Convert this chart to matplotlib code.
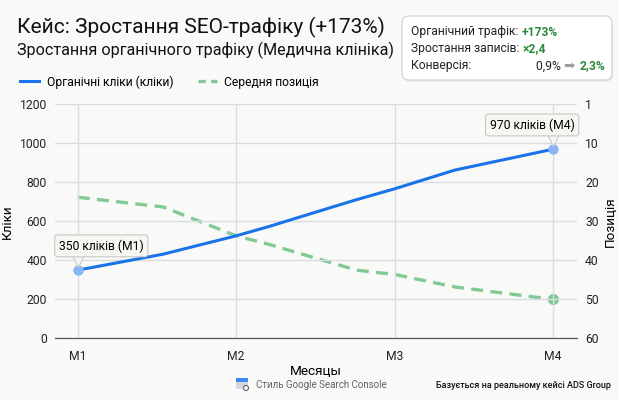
"""SEO case chart: organic clicks vs. average position (medical clinic)."""

import matplotlib
matplotlib.use("Agg")
import matplotlib.pyplot as plt
import matplotlib.transforms as mtransforms
from matplotlib.lines import Line2D
from matplotlib.patches import FancyBboxPatch, Rectangle, Circle

plt.rcParams["font.family"] = ["Roboto", "DejaVu Sans"]

# data (x in months from M1)
months = ["M1", "M2", "M3", "M4"]
t_clicks = [0, 0.54, 1.0, 1.2, 1.75, 2.0, 2.38, 3.0]
clicks = [350, 432, 526, 572, 709, 767, 863, 970]
t_pos = [0, 0.54, 1.0, 1.2, 1.76, 2.0, 2.38, 3.0]
position = [23.8, 26.3, 33.7, 35.8, 42.5, 43.6, 46.8, 50.0]
click_ticks = [0, 200, 400, 600, 800, 1000, 1200]
pos_ticks = [0, 10, 20, 30, 40, 50, 60]
pos_tick_labels = ["1", "10", "20", "30", "40", "50", "60"]

BLUE = "#1a73e8"
BLUE_LIGHT = "#8ab4f8"
GREEN = "#81c995"
GREEN_TXT = "#2e8b3e"
GRID = "#dadce0"
BG = "#f9f9f8"
CALLOUT = "#f6f6f2"

fig = plt.figure(figsize=(6.19, 4.0), dpi=100, facecolor=BG)
ax = fig.add_axes([0.0889, 0.154, 0.8428, 0.585])
ax2 = ax.twinx()
ax.set_zorder(ax2.get_zorder() + 1)
ax.patch.set_visible(False)
ax2.patch.set_facecolor(BG)

ax.set_xlim(-0.143, 3.15)
ax.set_ylim(0, 1200)
ax2.set_ylim(60, 0)
ax.set_xticks(range(len(months)))
ax.set_xticklabels(months)
ax.set_yticks(click_ticks)
ax2.set_yticks(pos_ticks)
ax2.set_yticklabels(pos_tick_labels)
ax.grid(True, color=GRID, lw=1)
ax.set_axisbelow(True)
for a in (ax, ax2):
    for s in ("left", "right", "top"):
        a.spines[s].set_visible(False)
    a.spines["bottom"].set_color("#555555")
    a.tick_params(length=0, labelsize=8.7, colors="#222222")
ax.tick_params(axis="x", pad=8)
ax.tick_params(axis="y", pad=6)
ax2.tick_params(axis="y", pad=6)

ax2.plot(t_pos, position, color=GREEN, lw=2.4, dashes=(3.6, 2.2))
ax2.plot([t_pos[-1]], [position[-1]], "o", color=GREEN, ms=7)
ax.plot(t_clicks, clicks, color=BLUE, lw=2.2, solid_capstyle="round")
ax.plot([t_clicks[0], t_clicks[-1]], [clicks[0], clicks[-1]], "o", color=BLUE_LIGHT, ms=6.5)

ax.set_xlabel("Месяцы", fontsize=9.7, labelpad=2)
ax.set_ylabel("Кліки", fontsize=9.7, labelpad=4)
ax2.set_ylabel("Позиція", fontsize=9.7, labelpad=4)

# callouts with a small pointer
box = dict(boxstyle="round,pad=0.35,rounding_size=0.25", fc=CALLOUT, ec="#c8c8c8", lw=0.8)
ptr = mtransforms.offset_copy(ax.transData, fig=fig, x=0, y=6.5, units="points")
for xi, yi, txt, dx in [(t_clicks[0], clicks[0], "350 кліків (M1)", 17),
                        (t_clicks[-1], clicks[-1], "970 кліків (M4)", -15)]:
    ax.plot([xi], [yi], marker="v", ms=8, mfc=CALLOUT, mec="#c8c8c8", mew=0.8,
            transform=ptr, zorder=6)
    ax.annotate(txt, xy=(xi, yi), xytext=(dx, 17.5), textcoords="offset points",
                ha="center", va="center", fontsize=8.7, bbox=box, zorder=7)

# titles and legend
fig.text(0.027, 0.932, "Кейс: Зростання SEO-трафіку (+173%)", fontsize=15, va="center", color="#111111")
fig.text(0.027, 0.874, "Зростання органічного трафіку (Медична клініка)", fontsize=11.6, va="center", color="#111111")
handles = [Line2D([], [], color=BLUE, lw=2.2),
           Line2D([], [], color=GREEN, lw=2.4, dashes=(2.2, 1.6))]
fig.legend(handles, ["Органічні кліки (кліки)", "Середня позиція"], loc="center left",
           bbox_to_anchor=(0.015, 0.795), ncol=2, frameon=False, fontsize=8.7,
           handlelength=1.6, handletextpad=0.6, columnspacing=2.0)

# overlay in pixel coordinates for info box and footer
ov = fig.add_axes([0, 0, 1, 1], zorder=10)
ov.set_xlim(0, 619)
ov.set_ylim(400, 0)
ov.axis("off")
ov.patch.set_visible(False)
ov.add_patch(FancyBboxPatch((403, 18), 210, 64, boxstyle="round,pad=0,rounding_size=7",
                            fc="#000000", ec="none", alpha=0.06))
ov.add_patch(FancyBboxPatch((402, 16), 210, 64, boxstyle="round,pad=0,rounding_size=7",
                            fc="white", ec="#d0d0d0", lw=0.8))
fs = 8.7
t1 = ov.text(411, 32, "Органічний трафік: ", fontsize=fs, va="center", color="#222222")
ov.annotate("+173%", xy=(1, 0), xycoords=t1, va="bottom", fontsize=fs, color=GREEN_TXT, weight="bold")
t2 = ov.text(411, 48.5, "Зростання записів: ", fontsize=fs, va="center", color="#222222")
ov.annotate("×2,4", xy=(1, 0), xycoords=t2, va="bottom", fontsize=fs, color=GREEN_TXT, weight="bold")
ov.text(411, 66, "Конверсія:", fontsize=fs, va="center", color="#222222")
t3 = ov.text(605, 66, "2,3%", fontsize=fs, va="center", ha="right", color=GREEN_TXT, weight="bold")
t4 = ov.annotate("➡ ", xy=(0, 0), xycoords=t3, va="bottom", ha="right", fontsize=fs + 1,
                 color="#9e9e9e", family=["DejaVu Sans"])
ov.annotate("0,9% ", xy=(0, 0), xycoords=t4, va="bottom", ha="right", fontsize=fs, color="#222222")

# footer
ov.add_patch(Rectangle((236, 380), 12, 9, fc="#cfd8e3", ec="none"))
ov.add_patch(Rectangle((236, 378), 12, 3.5, fc="#4285f4", ec="none"))
ov.add_patch(Circle((246, 388), 2.5, fc="white", ec="#5f6368", lw=0.8))
ov.text(256, 385, "Стиль Google Search Console", fontsize=7, va="center", color="#5f6368")
ov.text(611, 385, "Базується на реальному кейсі ADS Group", fontsize=6.5, va="center",
        ha="right", color="#111111", weight="medium")

fig.savefig("out.png", dpi=100, facecolor=BG)
